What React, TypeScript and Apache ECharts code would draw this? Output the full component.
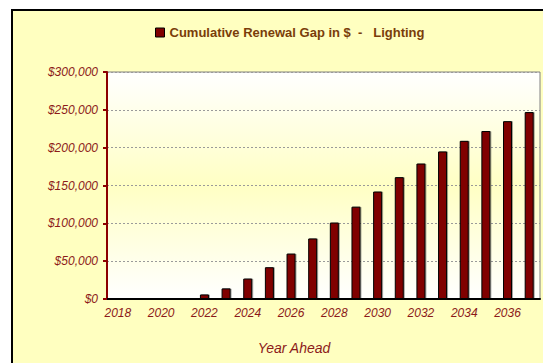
import React, { useEffect, useRef } from "react";
import * as echarts from "echarts";

const years = ["2018", "2019", "2020", "2021", "2022", "2023", "2024", "2025", "2026", "2027", "2028", "2029", "2030", "2031", "2032", "2033", "2034", "2035", "2036", "2037"];
const gapValues = [0, 0, 0, 1000, 6000, 14000, 27000, 42000, 60000, 80000, 101000, 122000, 142000, 161000, 179000, 195000, 209000, 222000, 235000, 247000];
const seriesName = "Cumulative Renewal Gap in $  -   Lighting";
const xAxisTitle = "Year Ahead";

export default function App() {
  const ref = useRef<HTMLDivElement>(null);
  useEffect(() => {
    if (!ref.current) return;
    const chart = echarts.init(ref.current, null, { renderer: "svg" });
    const labelColor = "#8c1a1a";
    chart.setOption({
      animation: false,
      backgroundColor: "#ffffff",
      textStyle: { fontFamily: "Liberation Sans, Arial, sans-serif" },
      graphic: [
        {
          type: "rect",
          z: -100,
          silent: true,
          shape: { x: 12, y: 10, width: 580, height: 400 },
          style: { fill: "#ffffc0", stroke: "#000000", lineWidth: 2 },
        },
        {
          type: "text",
          x: 294,
          y: 348,
          style: {
            text: xAxisTitle,
            fill: labelColor,
            font: "italic 14px 'Liberation Sans', Arial, sans-serif",
            textAlign: "center",
            textVerticalAlign: "middle",
          },
        },
      ],
      legend: {
        left: 150,
        top: 21,
        icon: "rect",
        itemWidth: 9,
        itemHeight: 9,
        itemGap: 4,
        itemStyle: { borderColor: "#000000", borderWidth: 1 },
        textStyle: {
          color: "#7a3d0a",
          fontWeight: "bold",
          fontSize: 13,
          fontFamily: "Liberation Sans, Arial, sans-serif",
        },
        data: [seriesName],
      },
      grid: {
        left: 107,
        top: 72,
        right: 3,
        bottom: 64,
        show: true,
        borderColor: "#808080",
        borderWidth: 1,
        backgroundColor: {
          type: "linear",
          x: 0,
          y: 0,
          x2: 0,
          y2: 1,
          colorStops: [
            { offset: 0, color: "#ffffff" },
            { offset: 0.5, color: "#ffffc4" },
            { offset: 1, color: "#ffffff" },
          ],
        },
      },
      xAxis: {
        type: "category",
        data: years,
        boundaryGap: true,
        axisLine: { lineStyle: { color: "#000000", width: 2 } },
        axisTick: { interval: 0, length: 4, lineStyle: { color: "#000000", width: 2 } },
        axisLabel: {
          interval: 1,
          color: labelColor,
          fontStyle: "italic",
          fontSize: 12,
          margin: 8,
        },
      },
      yAxis: {
        type: "value",
        min: 0,
        max: 300000,
        interval: 50000,
        axisLine: { show: true, lineStyle: { color: "#8b0000", width: 2 } },
        axisTick: { show: true, length: 4, lineStyle: { color: "#8b0000", width: 2 } },
        axisLabel: {
          color: labelColor,
          fontStyle: "italic",
          fontSize: 12,
          margin: 9,
          formatter: (v: number) => "$" + v.toLocaleString("en-US"),
        },
        splitLine: { lineStyle: { color: "#9a9a9a", type: [2, 2], width: 1 } },
      },
      series: [
        {
          name: seriesName,
          type: "bar",
          data: gapValues,
          barWidth: 9,
          itemStyle: {
            color: "#800000",
            borderColor: "#000000",
            borderWidth: 1,
            shadowColor: "rgba(0,0,0,0.35)",
            shadowOffsetX: 1,
            shadowOffsetY: 0,
            shadowBlur: 1,
          },
        },
      ],
    });
    return () => chart.dispose();
  }, []);
  return (
    <div
      ref={ref}
      style={{ position: "absolute", left: 0, top: 0, width: 543, height: 363 }}
    />
  );
}
